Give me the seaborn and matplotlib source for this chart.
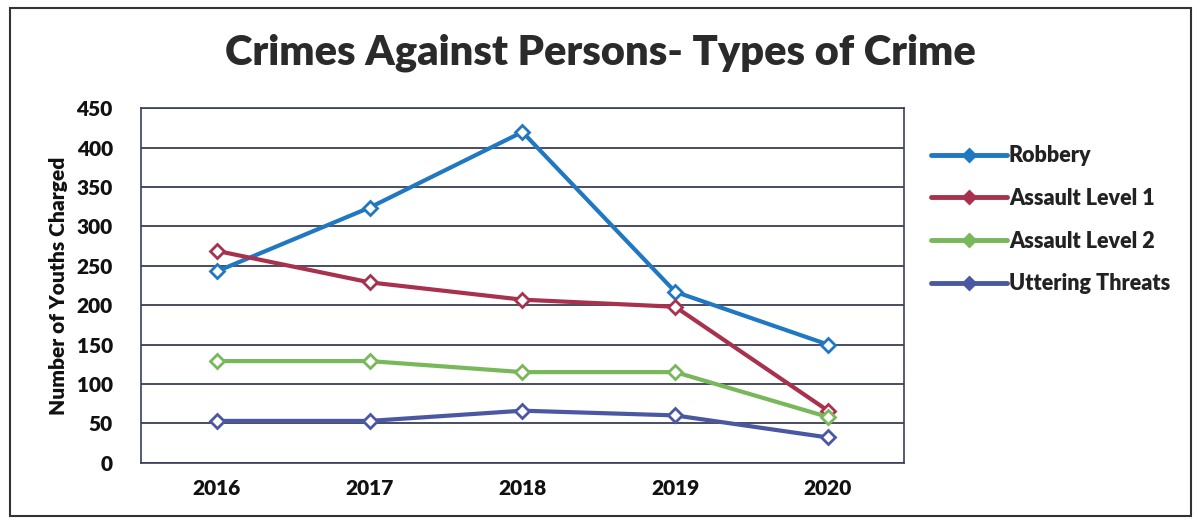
import pandas as pd
import seaborn as sns
import matplotlib.pyplot as plt
from matplotlib.patches import Rectangle

years = ["2016", "2017", "2018", "2019", "2020"]
robbery = [243, 324, 420, 217, 150]
assault1 = [269, 229, 207, 198, 66]
assault2 = [129, 129, 115, 115, 58]
threats = [53, 53, 66, 60, 32]

series = ["Robbery", "Assault Level 1", "Assault Level 2", "Uttering Threats"]
colors = ["#1f78c1", "#a8324e", "#78b85a", "#4a57a3"]

df = pd.DataFrame({"year": years * 4,
                   "crime": sum([[s] * len(years) for s in series], []),
                   "count": robbery + assault1 + assault2 + threats})

sns.set_theme(style="white")
plt.rcParams["font.family"] = ["Lato", "DejaVu Sans"]

fig = plt.figure(figsize=(12.01, 5.21), dpi=100)
ax = fig.add_axes([0.117, 0.112, 0.636, 0.68])

sns.lineplot(data=df, x="year", y="count", hue="crime", hue_order=series,
             palette=colors, marker="D", markersize=7, markerfacecolor="white",
             markeredgewidth=2, linewidth=3, ax=ax)
for line, c in zip(ax.lines, colors):
    line.set_markeredgecolor(c)

ax.set_ylim(0, 450)
ax.set_xlim(-0.5, 4.5)
ax.set_yticks(range(0, 451, 50))
ax.yaxis.grid(True, color="#2b2f45", linewidth=1.2)
ax.set_axisbelow(True)
for sp in ax.spines.values():
    sp.set_color("#3a3f5a")
    sp.set_linewidth(1.2)
ax.set_xlabel("")
ax.set_ylabel("Number of Youths Charged", fontsize=15, fontweight="heavy",
              color="#111111", labelpad=6)
ax.tick_params(axis="x", labelsize=15, colors="#111111", length=0, pad=12)
ax.tick_params(axis="y", labelsize=15, colors="#111111", length=0, pad=20)
for t in ax.get_xticklabels() + ax.get_yticklabels():
    t.set_fontweight("heavy")

leg = ax.legend(loc="upper left", bbox_to_anchor=(1.01, 0.95), frameon=False,
                fontsize=15.5, labelspacing=1.0, handlelength=3.5, handletextpad=0.1)
for h, c in zip(leg.legend_handles, colors):
    h.set_marker("D")
    h.set_markersize(6)
    h.set_markerfacecolor(c)
    h.set_markeredgecolor(c)
    h.set_linewidth(3.5)
for t in leg.get_texts():
    t.set_fontweight("heavy")
    t.set_color("#222222")

fig.suptitle("Crimes Against Persons- Types of Crime", x=0.5, y=0.935,
             fontsize=30, fontweight="heavy", color="#2a2a2a")
fig.patches.append(Rectangle((0.008, 0.01), 0.984, 0.975, transform=fig.transFigure,
                             fill=False, edgecolor="#333333", linewidth=1.5))

fig.savefig("out.png", dpi=100)
